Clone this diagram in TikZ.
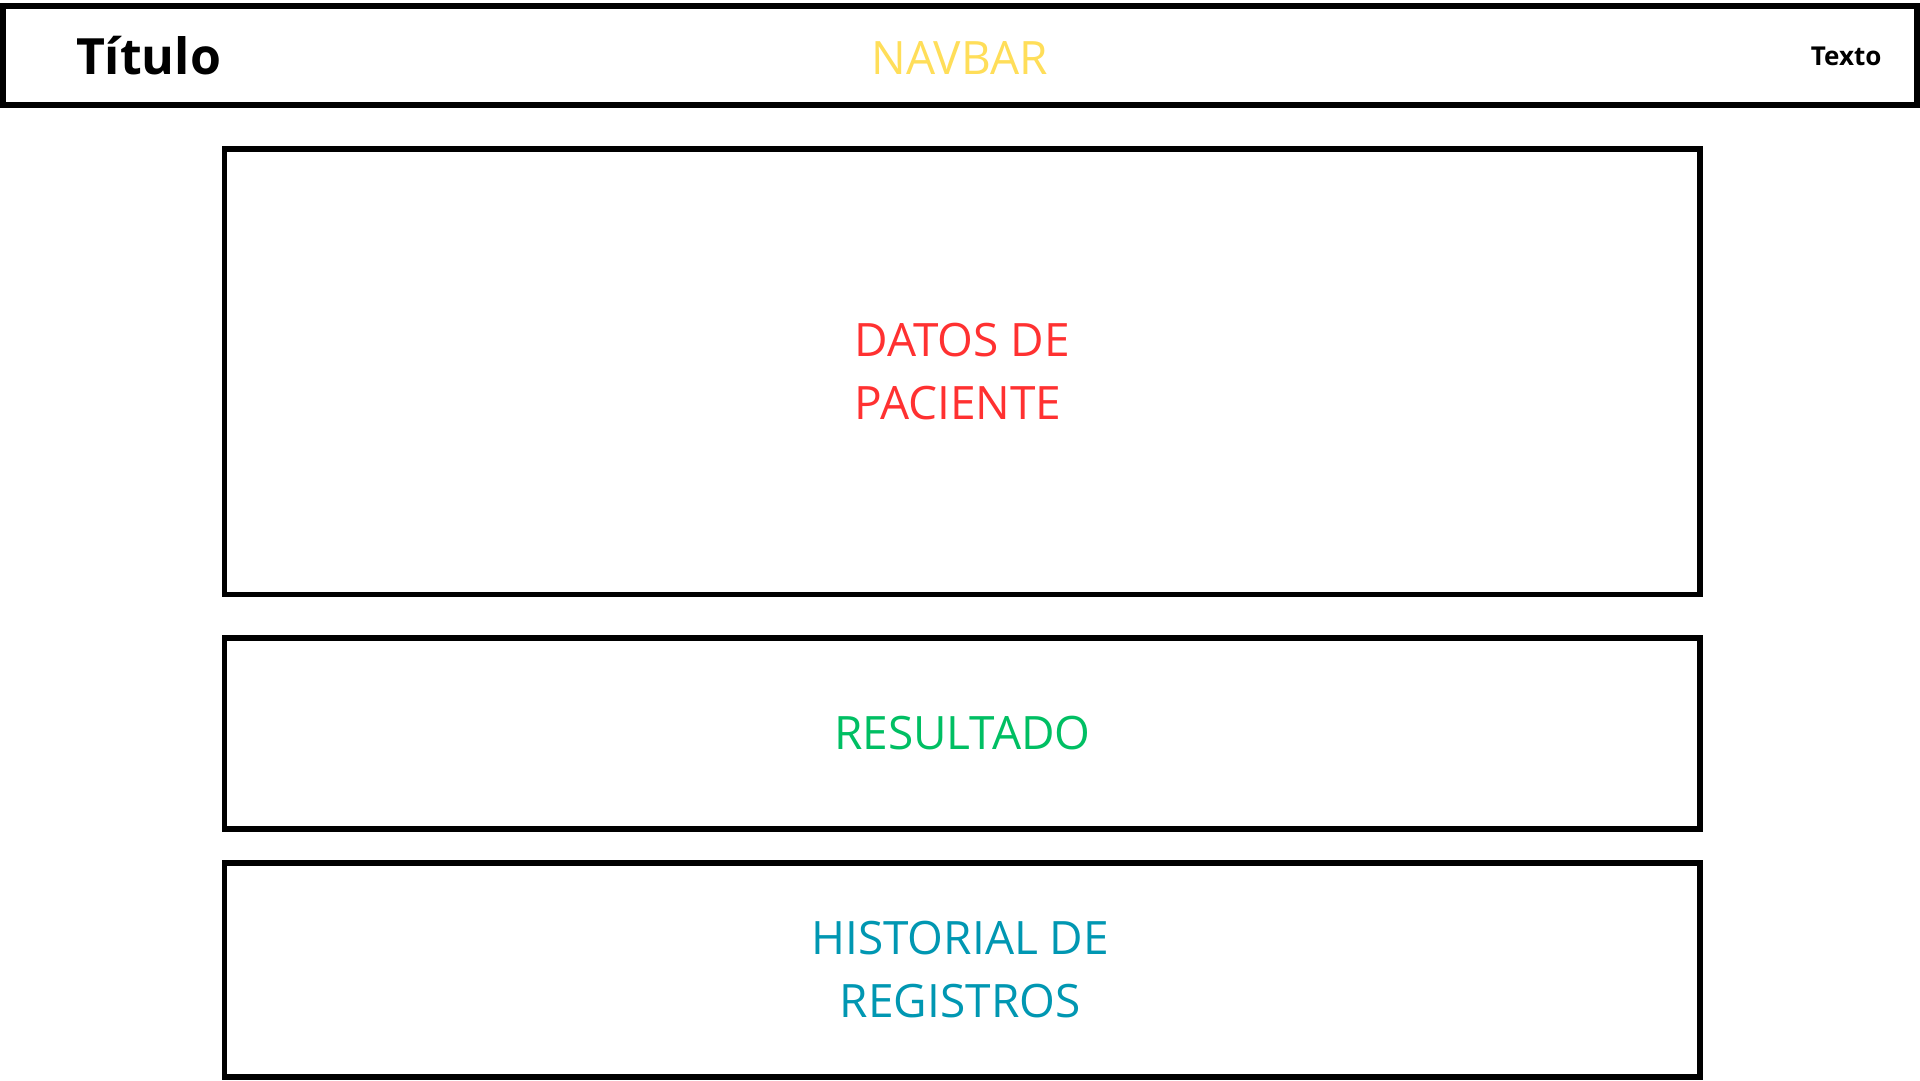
\documentclass[tikz,border=0pt]{standalone}
\usepackage{fontspec}
\setmainfont{Open Sans}
\usetikzlibrary{positioning}
\definecolor{yellow1}{RGB}{255,222,89}
\definecolor{red1}{RGB}{255,49,49}
\definecolor{green1}{RGB}{0,191,99}
\definecolor{teal1}{RGB}{0,151,178}

\begin{document}
\begin{tikzpicture}[
    x=1pt, y=-1pt,
    bar/.style={rectangle, draw=black, line width=6pt, inner sep=0pt},
    panel/.style={rectangle, draw=black, line width=5.5pt, inner sep=0pt,
      minimum width=1475.5pt},
    big/.style={font=\fontsize{46}{63}\selectfont}
]
\useasboundingbox[fill=white] (0,0) rectangle (1920,1080);

% Navbar
\node[bar, minimum width=1913.5pt, minimum height=98.5pt] (navbar) at (959.75,55.25) {};
\node[big, text=yellow1] (navtxt) at ([yshift=-2.75pt]navbar.center) {NAVBAR};
\node[anchor=base west, font=\fontsize{50}{60}\selectfont\bfseries] (titulo) at (72.5,74) {Título};
\node[anchor=base east, font=\fontsize{26}{31}\selectfont\bfseries] (texto) at (1885,65) {Texto};

% Panels
\node[panel, minimum height=445.5pt, big, text=red1, align=left] (datos) at (962.25,371.75) {DATOS DE\\PACIENTE};
\node[panel, minimum height=191pt, big, text=green1] (resultado) at (962.25,733.5) {RESULTADO};
\node[panel, minimum height=214pt, big, text=teal1, align=center] (historial) at (962.25,970) {};
\node[big, text=teal1, align=center] (histtxt) at ([xshift=-2pt]historial.center) {HISTORIAL DE\\REGISTROS};

\end{tikzpicture}
\end{document}
